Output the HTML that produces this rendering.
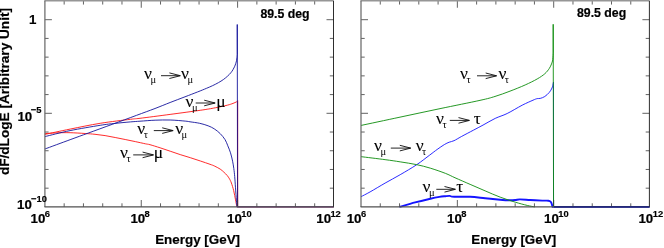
<!DOCTYPE html>
<html><head><meta charset="utf-8"><title>plot</title>
<style>
html,body{margin:0;padding:0;background:#fff;}
body{width:664px;height:248px;overflow:hidden;font-family:"Liberation Sans",sans-serif;}
svg{display:block;will-change:transform;transform:translateZ(0);}
</style></head><body>
<svg width="664" height="248" viewBox="0 0 664 248">
<rect width="664" height="248" fill="#fff"/>
<path d="M44.90,133.60 C47.10,133.47 53.90,132.95 58.10,132.80 C62.30,132.65 65.58,132.58 70.10,132.70 C74.62,132.82 81.05,133.23 85.20,133.50 C89.35,133.77 91.68,133.95 95.00,134.30 C98.32,134.65 101.73,135.07 105.10,135.60 C108.47,136.13 111.85,136.85 115.20,137.50 C118.55,138.15 121.85,138.82 125.20,139.50 C128.55,140.18 131.93,140.88 135.30,141.60 C138.67,142.32 142.95,143.28 145.40,143.80 C147.85,144.32 147.55,144.03 150.00,144.70 C152.45,145.37 156.73,146.72 160.10,147.80 C163.47,148.88 166.85,150.07 170.20,151.20 C173.55,152.33 176.85,153.52 180.20,154.60 C183.55,155.68 186.93,156.63 190.30,157.70 C193.67,158.77 197.12,159.90 200.40,161.00 C203.68,162.10 207.70,163.48 210.00,164.30 C212.30,165.12 212.50,165.10 214.20,165.90 C215.90,166.70 218.58,168.05 220.20,169.10 C221.82,170.15 222.73,171.13 223.90,172.20 C225.07,173.27 226.27,174.38 227.20,175.50 C228.13,176.62 228.80,177.65 229.50,178.90 C230.20,180.15 230.70,181.03 231.40,183.00 C232.10,184.97 233.02,187.90 233.70,190.70 C234.38,193.50 234.98,197.17 235.50,199.80 C236.02,202.43 236.58,205.38 236.80,206.50 L237.55,206.90" stroke="#ff1414" stroke-width="0.90" fill="none" stroke-linejoin="round" />
<path d="M44.90,134.40 C49.10,133.52 60.88,130.95 70.10,129.10 C79.32,127.25 90.15,124.93 100.20,123.30 C110.25,121.67 123.77,120.13 130.40,119.30 C137.03,118.47 133.38,119.12 140.00,118.30 C146.62,117.48 160.07,115.73 170.10,114.40 C180.13,113.07 192.67,111.40 200.20,110.30 C207.73,109.20 210.78,108.65 215.30,107.80 C219.82,106.95 224.35,105.93 227.30,105.20 C230.25,104.47 231.48,103.95 233.00,103.40 C234.52,102.85 235.63,102.28 236.40,101.90 C237.17,101.52 237.40,101.23 237.60,101.10 L237.65,100.60 L237.65,206.90 H333.50" stroke="#ff1414" stroke-width="0.90" fill="none" stroke-linejoin="round" />
<path d="M44.90,136.60 C49.10,135.60 60.88,132.48 70.10,130.60 C79.32,128.72 92.72,126.50 100.20,125.30 C107.68,124.10 109.97,123.97 115.00,123.40 C120.03,122.83 126.23,122.27 130.40,121.90 C134.57,121.53 135.88,121.48 140.00,121.20 C144.12,120.92 150.08,120.40 155.10,120.20 C160.12,120.00 165.08,119.85 170.10,120.00 C175.12,120.15 181.88,120.80 185.20,121.10 C188.52,121.40 187.58,121.43 190.00,121.80 C192.42,122.17 196.68,122.63 199.70,123.30 C202.72,123.97 205.68,124.88 208.10,125.80 C210.52,126.72 212.18,127.50 214.20,128.80 C216.22,130.10 218.38,131.78 220.20,133.60 C222.02,135.42 223.83,137.67 225.10,139.70 C226.37,141.73 226.90,143.62 227.80,145.80 C228.70,147.98 229.70,150.23 230.50,152.80 C231.30,155.37 232.05,158.58 232.60,161.20 C233.15,163.82 233.45,165.95 233.80,168.50 C234.15,171.05 234.42,173.28 234.70,176.50 C234.98,179.72 235.22,183.87 235.50,187.80 C235.78,191.73 236.17,196.92 236.40,200.10 C236.63,203.28 236.82,205.77 236.90,206.90 L237.55,206.90" stroke="#14149c" stroke-width="0.90" fill="none" stroke-linejoin="round" />
<path d="M44.90,149.00 C49.10,147.45 62.88,142.35 70.10,139.70 C77.32,137.05 81.17,135.67 88.20,133.10 C95.23,130.53 104.27,127.25 112.30,124.30 C120.33,121.35 129.28,118.03 136.40,115.40 C143.52,112.77 149.38,110.65 155.00,108.50 C160.62,106.35 165.10,104.45 170.10,102.50 C175.10,100.55 180.40,98.57 185.00,96.80 C189.60,95.03 194.15,93.30 197.70,91.90 C201.25,90.50 203.80,89.45 206.30,88.40 C208.80,87.35 210.67,86.57 212.70,85.60 C214.73,84.63 216.73,83.60 218.50,82.60 C220.27,81.60 221.80,80.67 223.30,79.60 C224.80,78.53 226.25,77.33 227.50,76.20 C228.75,75.07 229.90,73.87 230.80,72.80 C231.70,71.73 232.28,70.80 232.90,69.80 C233.52,68.80 234.03,67.80 234.50,66.80 C234.97,65.80 235.37,64.80 235.70,63.80 C236.03,62.80 236.28,61.85 236.50,60.80 C236.72,59.75 236.87,58.55 237.00,57.50 C237.13,56.45 237.25,55.00 237.30,54.50 L237.25,24.50 L237.55,206.90 H333.50" stroke="#14149c" stroke-width="0.90" fill="none" stroke-linejoin="round" />
<path d="M237.55,101.30 V206.90" stroke="#3c1078" stroke-width="0.95" fill="none" stroke-linejoin="round" />
<path d="M361.00,196.70 C362.52,195.90 366.08,194.17 370.10,191.90 C374.12,189.63 380.08,185.97 385.10,183.10 C390.12,180.23 394.93,177.77 400.20,174.70 C405.47,171.63 411.77,167.98 416.70,164.70 C421.63,161.42 426.40,157.53 429.80,155.00 C433.20,152.47 434.68,151.23 437.10,149.50 C439.52,147.77 442.28,145.82 444.30,144.60 C446.32,143.38 447.58,142.85 449.20,142.20 C450.82,141.55 451.98,141.63 454.00,140.70 C456.02,139.77 458.07,138.35 461.30,136.60 C464.53,134.85 469.78,132.12 473.40,130.20 C477.02,128.28 479.37,127.07 483.00,125.10 C486.63,123.13 491.17,120.33 495.20,118.40 C499.23,116.47 502.70,115.70 507.20,113.50 C511.70,111.30 517.90,107.42 522.20,105.20 C526.50,102.98 530.50,101.30 533.00,100.20 C535.50,99.10 536.00,98.90 537.20,98.60 C538.40,98.30 538.93,98.75 540.20,98.40 C541.47,98.05 543.28,97.50 544.80,96.50 C546.32,95.50 548.10,93.82 549.30,92.40 C550.50,90.98 551.35,89.50 552.00,88.00 C552.65,86.50 553.00,84.17 553.20,83.40 L553.50,82.00 L553.50,206.90" stroke="#1414ff" stroke-width="0.90" fill="none" stroke-linejoin="round" />
<path d="M399.40,206.90 C402.03,206.15 410.05,203.77 415.20,202.40 C420.35,201.03 426.28,199.62 430.30,198.70 C434.32,197.78 436.78,197.32 439.30,196.90 C441.82,196.48 443.68,196.37 445.40,196.20 C447.12,196.03 448.53,195.83 449.60,195.90 C450.67,195.97 450.90,196.46 451.80,196.60 C452.70,196.74 451.95,196.72 455.00,196.75 C458.05,196.78 465.08,196.56 470.10,196.80 C475.12,197.04 480.08,197.72 485.10,198.20 C490.12,198.68 496.43,199.35 500.20,199.70 C503.97,200.05 505.20,200.25 507.70,200.30 C510.20,200.35 513.18,200.15 515.20,200.00 C517.22,199.85 517.28,199.40 519.80,199.40 C522.32,199.40 526.55,199.80 530.30,200.00 C534.05,200.20 539.28,200.48 542.30,200.60 C545.32,200.72 547.02,200.53 548.40,200.70 C549.78,200.87 550.07,201.13 550.60,201.60 C551.13,202.07 551.27,202.62 551.60,203.50 C551.93,204.38 552.43,206.33 552.60,206.90 H649.40" stroke="#1414ff" stroke-width="1.90" fill="none" stroke-linejoin="round" />
<path d="M361.00,156.65 C365.02,157.15 378.57,158.78 385.10,159.65 C391.63,160.52 394.93,161.02 400.20,161.85 C405.47,162.68 411.68,163.60 416.70,164.65 C421.72,165.70 425.52,166.70 430.30,168.15 C435.08,169.60 441.28,171.75 445.40,173.35 C449.52,174.95 450.88,175.92 455.00,177.75 C459.12,179.58 465.08,182.17 470.10,184.35 C475.12,186.53 480.08,188.72 485.10,190.85 C490.12,192.98 495.18,195.27 500.20,197.15 C505.22,199.03 510.68,200.77 515.20,202.15 C519.72,203.53 524.03,204.66 527.30,205.45 C530.57,206.24 533.55,206.66 534.80,206.90" stroke="#0c8c0c" stroke-width="0.90" fill="none" stroke-linejoin="round" />
<path d="M361.00,125.45 C367.50,124.07 386.83,119.95 400.00,117.15 C413.17,114.35 426.67,111.45 440.00,108.65 C453.33,105.85 470.83,102.38 480.00,100.35 C489.17,98.32 490.00,97.98 495.00,96.45 C500.00,94.92 504.97,93.07 510.00,91.15 C515.03,89.23 520.67,86.98 525.20,84.95 C529.73,82.92 533.93,80.82 537.20,78.95 C540.47,77.08 542.78,75.50 544.80,73.75 C546.82,72.00 548.18,70.08 549.30,68.45 C550.42,66.82 550.93,65.42 551.50,63.95 C552.07,62.48 552.42,61.62 552.70,59.65 C552.98,57.68 553.12,53.40 553.20,52.15 L553.20,24.30 L553.55,206.90" stroke="#0c8c0c" stroke-width="0.90" fill="none" stroke-linejoin="round" />
<path d="M64.17,206.90 V203.30 M64.17,0.75 V4.55 M83.44,206.90 V203.30 M83.44,0.75 V4.55 M102.71,206.90 V203.30 M102.71,0.75 V4.55 M121.98,206.90 V203.30 M121.98,0.75 V4.55 M141.25,206.90 V200.00 M141.25,0.75 V7.75 M160.52,206.90 V203.30 M160.52,0.75 V4.55 M179.79,206.90 V203.30 M179.79,0.75 V4.55 M199.06,206.90 V203.30 M199.06,0.75 V4.55 M218.33,206.90 V203.30 M218.33,0.75 V4.55 M237.60,206.90 V200.00 M237.60,0.75 V7.75 M256.87,206.90 V203.30 M256.87,0.75 V4.55 M276.14,206.90 V203.30 M276.14,0.75 V4.55 M295.41,206.90 V203.30 M295.41,0.75 V4.55 M314.68,206.90 V203.30 M314.68,0.75 V4.55 M44.90,19.70 H51.90 M333.50,19.70 H326.50 M44.90,38.42 H48.60 M333.50,38.42 H329.80 M44.90,57.14 H48.60 M333.50,57.14 H329.80 M44.90,75.86 H48.60 M333.50,75.86 H329.80 M44.90,94.58 H48.60 M333.50,94.58 H329.80 M44.90,113.30 H51.90 M333.50,113.30 H326.50 M44.90,132.02 H48.60 M333.50,132.02 H329.80 M44.90,150.74 H48.60 M333.50,150.74 H329.80 M44.90,169.46 H48.60 M333.50,169.46 H329.80 M44.90,188.18 H48.60 M333.50,188.18 H329.80" stroke="#3a3a3a" stroke-width="0.8" fill="none"/>
<path d="M44.40,0.75 H333.50" stroke="#969696" stroke-width="1.5" fill="none"/>
<path d="M44.90,0.75 V206.90" stroke="#6a6a6a" stroke-width="1.25" fill="none"/>
<path d="M333.50,0.75 V207.30" stroke="#161616" stroke-width="0.9" fill="none"/>
<path d="M44.50,206.90 H333.50" stroke="#505050" stroke-width="1.1" fill="none"/>
<path d="M380.27,206.90 V203.30 M380.27,0.75 V4.55 M399.54,206.90 V203.30 M399.54,0.75 V4.55 M418.81,206.90 V203.30 M418.81,0.75 V4.55 M438.08,206.90 V203.30 M438.08,0.75 V4.55 M457.35,206.90 V200.00 M457.35,0.75 V7.75 M476.62,206.90 V203.30 M476.62,0.75 V4.55 M495.89,206.90 V203.30 M495.89,0.75 V4.55 M515.16,206.90 V203.30 M515.16,0.75 V4.55 M534.43,206.90 V203.30 M534.43,0.75 V4.55 M553.70,206.90 V200.00 M553.70,0.75 V7.75 M572.97,206.90 V203.30 M572.97,0.75 V4.55 M592.24,206.90 V203.30 M592.24,0.75 V4.55 M611.51,206.90 V203.30 M611.51,0.75 V4.55 M630.78,206.90 V203.30 M630.78,0.75 V4.55 M361.00,19.70 H368.00 M649.40,19.70 H642.40 M361.00,38.42 H364.70 M649.40,38.42 H645.70 M361.00,57.14 H364.70 M649.40,57.14 H645.70 M361.00,75.86 H364.70 M649.40,75.86 H645.70 M361.00,94.58 H364.70 M649.40,94.58 H645.70 M361.00,113.30 H368.00 M649.40,113.30 H642.40 M361.00,132.02 H364.70 M649.40,132.02 H645.70 M361.00,150.74 H364.70 M649.40,150.74 H645.70 M361.00,169.46 H364.70 M649.40,169.46 H645.70 M361.00,188.18 H364.70 M649.40,188.18 H645.70" stroke="#3a3a3a" stroke-width="0.8" fill="none"/>
<path d="M360.50,0.75 H649.40" stroke="#969696" stroke-width="1.5" fill="none"/>
<path d="M361.00,0.75 V206.90" stroke="#6a6a6a" stroke-width="1.25" fill="none"/>
<path d="M649.40,0.75 V207.30" stroke="#161616" stroke-width="0.9" fill="none"/>
<path d="M360.60,206.90 H649.40" stroke="#505050" stroke-width="1.1" fill="none"/>
<path d="M554.00,206.90 H649.40" stroke="#1a2274" stroke-width="1.3" fill="none"/>
<text x="36.40" y="23.90" font-size="13.30" font-family="Liberation Sans, sans-serif" font-weight="bold" text-anchor="end" fill="#000" stroke="#000" stroke-width="0.2">1</text>
<text x="32.20" y="120.80" font-size="13.30" font-family="Liberation Sans, sans-serif" font-weight="bold" text-anchor="end" fill="#000" stroke="#000" stroke-width="0.2">10</text>
<text x="30.80" y="113.00" font-size="9.40" font-family="Liberation Sans, sans-serif" font-weight="bold" text-anchor="start" fill="#000" stroke="#000" stroke-width="0.15">&#8722;5</text>
<text x="31.80" y="209.30" font-size="13.30" font-family="Liberation Sans, sans-serif" font-weight="bold" text-anchor="end" fill="#000" stroke="#000" stroke-width="0.2">10</text>
<text x="31.00" y="202.20" font-size="9.40" font-family="Liberation Sans, sans-serif" font-weight="bold" text-anchor="start" fill="#000" stroke="#000" stroke-width="0.15">&#8722;10</text>
<text x="45.40" y="223.20" font-size="13.30" font-family="Liberation Sans, sans-serif" font-weight="bold" text-anchor="end" fill="#000" stroke="#000" stroke-width="0.2">10</text>
<text x="44.80" y="216.50" font-size="9.40" font-family="Liberation Sans, sans-serif" font-weight="bold" text-anchor="start" fill="#000" stroke="#000" stroke-width="0.15">6</text>
<text x="145.20" y="223.20" font-size="13.30" font-family="Liberation Sans, sans-serif" font-weight="bold" text-anchor="end" fill="#000" stroke="#000" stroke-width="0.2">10</text>
<text x="144.60" y="216.50" font-size="9.40" font-family="Liberation Sans, sans-serif" font-weight="bold" text-anchor="start" fill="#000" stroke="#000" stroke-width="0.15">8</text>
<text x="241.90" y="223.20" font-size="13.30" font-family="Liberation Sans, sans-serif" font-weight="bold" text-anchor="end" fill="#000" stroke="#000" stroke-width="0.2">10</text>
<text x="241.20" y="216.50" font-size="9.40" font-family="Liberation Sans, sans-serif" font-weight="bold" text-anchor="start" fill="#000" stroke="#000" stroke-width="0.15">10</text>
<text x="331.10" y="223.20" font-size="13.30" font-family="Liberation Sans, sans-serif" font-weight="bold" text-anchor="end" fill="#000" stroke="#000" stroke-width="0.2">10</text>
<text x="330.40" y="216.50" font-size="9.40" font-family="Liberation Sans, sans-serif" font-weight="bold" text-anchor="start" fill="#000" stroke="#000" stroke-width="0.15">12</text>
<text x="155.20" y="244.30" font-size="13.40" font-family="Liberation Sans, sans-serif" font-weight="bold" text-anchor="start" fill="#000" stroke="#000" stroke-width="0.2">Energy [GeV]</text>
<text x="260.40" y="17.60" font-size="12.30" font-family="Liberation Sans, sans-serif" font-weight="bold" text-anchor="start" fill="#000" stroke="#000" stroke-width="0.2">89.5 deg</text>
<text x="361.50" y="223.20" font-size="13.30" font-family="Liberation Sans, sans-serif" font-weight="bold" text-anchor="end" fill="#000" stroke="#000" stroke-width="0.2">10</text>
<text x="360.90" y="216.50" font-size="9.40" font-family="Liberation Sans, sans-serif" font-weight="bold" text-anchor="start" fill="#000" stroke="#000" stroke-width="0.15">6</text>
<text x="461.80" y="223.20" font-size="13.30" font-family="Liberation Sans, sans-serif" font-weight="bold" text-anchor="end" fill="#000" stroke="#000" stroke-width="0.2">10</text>
<text x="461.20" y="216.50" font-size="9.40" font-family="Liberation Sans, sans-serif" font-weight="bold" text-anchor="start" fill="#000" stroke="#000" stroke-width="0.15">8</text>
<text x="558.90" y="223.20" font-size="13.30" font-family="Liberation Sans, sans-serif" font-weight="bold" text-anchor="end" fill="#000" stroke="#000" stroke-width="0.2">10</text>
<text x="558.20" y="216.50" font-size="9.40" font-family="Liberation Sans, sans-serif" font-weight="bold" text-anchor="start" fill="#000" stroke="#000" stroke-width="0.15">10</text>
<text x="653.20" y="223.20" font-size="13.30" font-family="Liberation Sans, sans-serif" font-weight="bold" text-anchor="end" fill="#000" stroke="#000" stroke-width="0.2">10</text>
<text x="652.80" y="216.50" font-size="9.40" font-family="Liberation Sans, sans-serif" font-weight="bold" text-anchor="start" fill="#000" stroke="#000" stroke-width="0.15">12</text>
<text x="471.30" y="244.30" font-size="13.40" font-family="Liberation Sans, sans-serif" font-weight="bold" text-anchor="start" fill="#000" stroke="#000" stroke-width="0.2">Energy [GeV]</text>
<text x="577.00" y="17.40" font-size="12.30" font-family="Liberation Sans, sans-serif" font-weight="bold" text-anchor="start" fill="#000" stroke="#000" stroke-width="0.2">89.5 deg</text>
<text transform="translate(9.2,175.1) rotate(-90)" font-size="13.62" font-family="Liberation Sans, sans-serif" font-weight="bold" fill="#000" stroke="#000" stroke-width="0.2">dF/dLogE [Aribitrary Unit]</text>
<text x="144.10" y="79.00" font-size="17.50" font-family="Liberation Serif, serif" text-anchor="start" fill="#000" stroke="#000" stroke-width="0.1">&#957;</text>
<text x="150.50" y="83.00" font-size="10.50" font-family="Liberation Serif, serif" text-anchor="start" fill="#000" >&#956;</text>
<path d="M161.00,75.70 H179.90 M169.40,72.90 L180.40,75.70 L169.40,78.50" stroke="#111" stroke-width="0.92" fill="none" stroke-linejoin="miter"/>
<text x="181.10" y="79.00" font-size="17.50" font-family="Liberation Serif, serif" text-anchor="start" fill="#000" stroke="#000" stroke-width="0.1">&#957;</text>
<text x="187.50" y="83.00" font-size="10.50" font-family="Liberation Serif, serif" text-anchor="start" fill="#000" >&#956;</text>
<text x="185.60" y="106.90" font-size="17.50" font-family="Liberation Serif, serif" text-anchor="start" fill="#000" stroke="#000" stroke-width="0.1">&#957;</text>
<text x="192.00" y="110.90" font-size="10.50" font-family="Liberation Serif, serif" text-anchor="start" fill="#000" >&#956;</text>
<path d="M195.70,103.00 H214.70 M204.20,100.20 L215.20,103.00 L204.20,105.80" stroke="#111" stroke-width="0.92" fill="none" stroke-linejoin="miter"/>
<text x="216.20" y="106.90" font-size="17.50" font-family="Liberation Serif, serif" text-anchor="start" fill="#000" stroke="#000" stroke-width="0.1">&#956;</text>
<text x="137.30" y="134.30" font-size="17.50" font-family="Liberation Serif, serif" text-anchor="start" fill="#000" stroke="#000" stroke-width="0.1">&#957;</text>
<text x="143.70" y="138.30" font-size="10.50" font-family="Liberation Serif, serif" text-anchor="start" fill="#000" >&#964;</text>
<path d="M153.80,130.60 H172.70 M162.20,127.80 L173.20,130.60 L162.20,133.40" stroke="#111" stroke-width="0.92" fill="none" stroke-linejoin="miter"/>
<text x="175.20" y="134.30" font-size="17.50" font-family="Liberation Serif, serif" text-anchor="start" fill="#000" stroke="#000" stroke-width="0.1">&#957;</text>
<text x="181.60" y="138.30" font-size="10.50" font-family="Liberation Serif, serif" text-anchor="start" fill="#000" >&#956;</text>
<text x="120.00" y="158.10" font-size="17.50" font-family="Liberation Serif, serif" text-anchor="start" fill="#000" stroke="#000" stroke-width="0.1">&#957;</text>
<text x="126.40" y="162.10" font-size="10.50" font-family="Liberation Serif, serif" text-anchor="start" fill="#000" >&#964;</text>
<path d="M133.20,154.90 H153.10 M142.60,152.10 L153.60,154.90 L142.60,157.70" stroke="#111" stroke-width="0.92" fill="none" stroke-linejoin="miter"/>
<text x="153.80" y="158.10" font-size="17.50" font-family="Liberation Serif, serif" text-anchor="start" fill="#000" stroke="#000" stroke-width="0.1">&#956;</text>
<text x="460.00" y="79.30" font-size="17.50" font-family="Liberation Serif, serif" text-anchor="start" fill="#000" stroke="#000" stroke-width="0.1">&#957;</text>
<text x="466.40" y="83.30" font-size="10.50" font-family="Liberation Serif, serif" text-anchor="start" fill="#000" >&#964;</text>
<path d="M477.00,75.80 H496.20 M485.70,73.00 L496.70,75.80 L485.70,78.60" stroke="#111" stroke-width="0.92" fill="none" stroke-linejoin="miter"/>
<text x="498.40" y="79.30" font-size="17.50" font-family="Liberation Serif, serif" text-anchor="start" fill="#000" stroke="#000" stroke-width="0.1">&#957;</text>
<text x="504.80" y="83.30" font-size="10.50" font-family="Liberation Serif, serif" text-anchor="start" fill="#000" >&#964;</text>
<text x="436.10" y="123.50" font-size="17.50" font-family="Liberation Serif, serif" text-anchor="start" fill="#000" stroke="#000" stroke-width="0.1">&#957;</text>
<text x="442.50" y="127.50" font-size="10.50" font-family="Liberation Serif, serif" text-anchor="start" fill="#000" >&#964;</text>
<path d="M449.80,120.40 H469.00 M458.50,117.60 L469.50,120.40 L458.50,123.20" stroke="#111" stroke-width="0.92" fill="none" stroke-linejoin="miter"/>
<text x="473.70" y="123.50" font-size="17.50" font-family="Liberation Serif, serif" text-anchor="start" fill="#000" stroke="#000" stroke-width="0.1">&#964;</text>
<text x="374.00" y="151.40" font-size="17.50" font-family="Liberation Serif, serif" text-anchor="start" fill="#000" stroke="#000" stroke-width="0.1">&#957;</text>
<text x="380.40" y="155.40" font-size="10.50" font-family="Liberation Serif, serif" text-anchor="start" fill="#000" >&#956;</text>
<path d="M390.80,148.10 H410.30 M399.80,145.30 L410.80,148.10 L399.80,150.90" stroke="#111" stroke-width="0.92" fill="none" stroke-linejoin="miter"/>
<text x="415.70" y="151.40" font-size="17.50" font-family="Liberation Serif, serif" text-anchor="start" fill="#000" stroke="#000" stroke-width="0.1">&#957;</text>
<text x="422.10" y="155.40" font-size="10.50" font-family="Liberation Serif, serif" text-anchor="start" fill="#000" >&#964;</text>
<text x="422.50" y="192.30" font-size="17.50" font-family="Liberation Serif, serif" text-anchor="start" fill="#000" stroke="#000" stroke-width="0.1">&#957;</text>
<text x="428.90" y="196.30" font-size="10.50" font-family="Liberation Serif, serif" text-anchor="start" fill="#000" >&#956;</text>
<path d="M436.30,189.30 H455.00 M444.50,186.50 L455.50,189.30 L444.50,192.10" stroke="#111" stroke-width="0.92" fill="none" stroke-linejoin="miter"/>
<text x="456.30" y="192.30" font-size="17.50" font-family="Liberation Serif, serif" text-anchor="start" fill="#000" stroke="#000" stroke-width="0.1">&#964;</text>
</svg>
</body></html>
